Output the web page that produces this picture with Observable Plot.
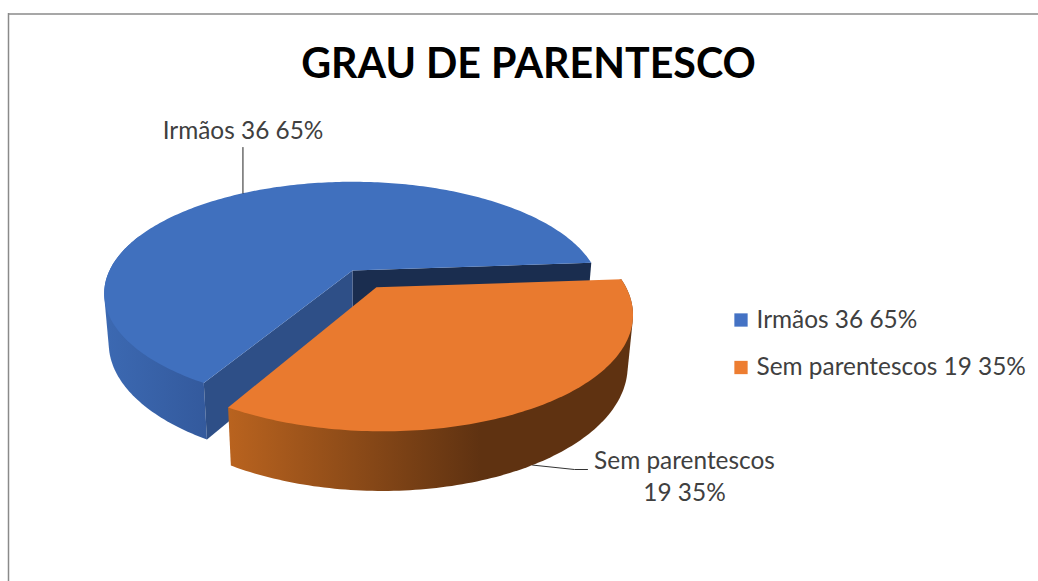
<!DOCTYPE html>
<html>
<head>
<meta charset="utf-8">
<script src="https://cdn.jsdelivr.net/npm/d3@7"></script>
<script src="https://cdn.jsdelivr.net/npm/@observablehq/plot@0.6"></script>
<style>html,body{margin:0;padding:0;background:#fff}svg{display:block}</style>
</head>
<body>
<div id="root"></div>
<script>
const titleText = "GRAU DE PARENTESCO";
const categories = ["Irmãos", "Sem parentescos"];
const counts = [36, 19];
const percents = ["65%", "35%"];
const topColors = ["#4070be", "#e97a2f"];
const legendColors = ["#4472c4", "#ed7d31"];

// 3D pie projection parameters
const W = 1038, H = 581, font = "Lato, Carlito, 'Open Sans', sans-serif";
const cx = 352, cy = 270, R = 243, Rk = 107, persp = 0.206, depth = 49.5, shrink = 0.018;
const firstAngle = 120.2, explodes = [0, 0.18], radii = [1, 0.995], step = 1;
const wallSpan = [80, 180]; // the part of each slice's rim whose outer wall faces the viewer
const rad = Math.PI / 180;

function project(X, Y, z) {
  const s = 1 / (1 - persp * Y + shrink * z);
  return {x: cx + R * X * s, y: cy + Rk * Y * s + depth * z * s};
}
const total = d3.sum(counts);
let acc = firstAngle;
const slices = counts.map((c, i) => {
  const a0 = acc, a1 = acc + c / total * 360; acc = a1;
  const mid = (a0 + a1) / 2;
  const ox = explodes[i] * Math.cos(mid * rad), oy = explodes[i] * Math.sin(mid * rad);
  const at = (a, z) => project(ox + radii[i] * Math.cos(a * rad), oy + radii[i] * Math.sin(a * rad), z);
  const angles = d3.range(a0, a1, step).concat(a1);
  const arc = z => angles.map(a => at(a, z));
  return {a0, a1, mid, at, arc, angles, apex: z => project(ox, oy, z)};
});
const [blue, orange] = slices;
const poly = (pts, fill) =>
  Plot.line(pts, {x: "x", y: "y", fill, stroke: "none", curve: "linear"});
// Outer wall: hull of the top and bottom rims over the rim section that faces the viewer.
const wallFace = (s, span) => {
  const angles = s.angles.filter(a => a <= s.a0 + span);
  const rim = angles.flatMap(a => [s.at(a, 0), s.at(a, 1)]).map(p => [p.x, p.y]);
  return d3.polygonHull(rim).map(([x, y]) => ({x, y}));
};
const topFace = s => [s.apex(0), ...s.arc(0)];
const cutFace = (s, a) => [s.apex(0), s.at(a, 0), s.at(a, 1), s.apex(1)];

const gradients = () => {
  const ns = "http://www.w3.org/2000/svg";
  const defs = document.createElementNS(ns, "defs");
  defs.innerHTML = `
    <linearGradient id="gBlue" gradientUnits="userSpaceOnUse" x1="104" x2="210" y1="0" y2="0">
      <stop offset="0" stop-color="#3c69b2"/><stop offset="1" stop-color="#33599c"/>
    </linearGradient>
    <linearGradient id="gOrange" gradientUnits="userSpaceOnUse" x1="228" x2="480" y1="0" y2="0">
      <stop offset="0" stop-color="#b9631f"/><stop offset="1" stop-color="#5f3211"/>
    </linearGradient>`;
  return defs;
};

const labels = categories.map((c, i) => `${c} ${counts[i]} ${percents[i]}`);
const legendRows = labels.map((text, i) => ({text, color: legendColors[i], y: [319.5, 367][i]}));
const blueAnchor = blue.at(blue.mid, 0);
const orangeAnchor = orange.at(orange.mid + 1.5, 1);

const figure = Plot.plot({
  width: W, height: H, margin: 0,
  x: {domain: [0, W], range: [0, W], axis: null},
  y: {domain: [0, H], range: [0, H], axis: null},
  marks: [
    gradients,
    // chart frame
    Plot.ruleX([8], {y1: 13, y2: H, stroke: "#8a8a8a", strokeWidth: 1.5}),
    Plot.ruleY([13.5], {x1: 8, x2: W, stroke: "#8a8a8a", strokeWidth: 1.5}),
    Plot.text([titleText], {x: 528, y: 64.5, text: d => d, fontSize: 41.2, fontWeight: "bold", fontFamily: font, fill: "#000"}),
    // blue slice
    poly(wallFace(blue, wallSpan[0]), "url(#gBlue)"),
    poly(cutFace(blue, blue.a1), "#1a2d4f"),
    poly(cutFace(blue, blue.a0), "#2e4f87"),
    poly(topFace(blue), topColors[0]),
    // leaders
    Plot.line([blueAnchor, {x: blueAnchor.x, y: 147}], {x: "x", y: "y", stroke: "#222", strokeWidth: 1}),
    Plot.line([orangeAnchor, {x: 574, y: 469}, {x: 587, y: 469}], {x: "x", y: "y", stroke: "#333", strokeWidth: 1}),
    // orange slice
    poly(wallFace(orange, wallSpan[1]), "url(#gOrange)"),
    poly(topFace(orange), topColors[1]),
    // data labels
    Plot.text([labels[0]], {x: 242.5, y: 131, text: d => d, fontSize: 24.4, fontFamily: font, fill: "#404040"}),
    Plot.text([`${categories[1]}`, `${counts[1]} ${percents[1]}`], {x: 684, y: (d, i) => [461, 493][i], text: d => d, fontSize: 24.4, fontFamily: font, fill: "#404040"}),
    // legend
    Plot.dot(legendRows, {x: 740.5, y: "y", r: 7.5, symbol: "square", fill: "color", stroke: "none"}),
    Plot.text(legendRows, {x: 756, y: "y", text: "text", textAnchor: "start", fontSize: 24.4, fontFamily: font, fill: "#404040"})
  ]
});
document.getElementById("root").appendChild(figure);
</script>
</body>
</html>
